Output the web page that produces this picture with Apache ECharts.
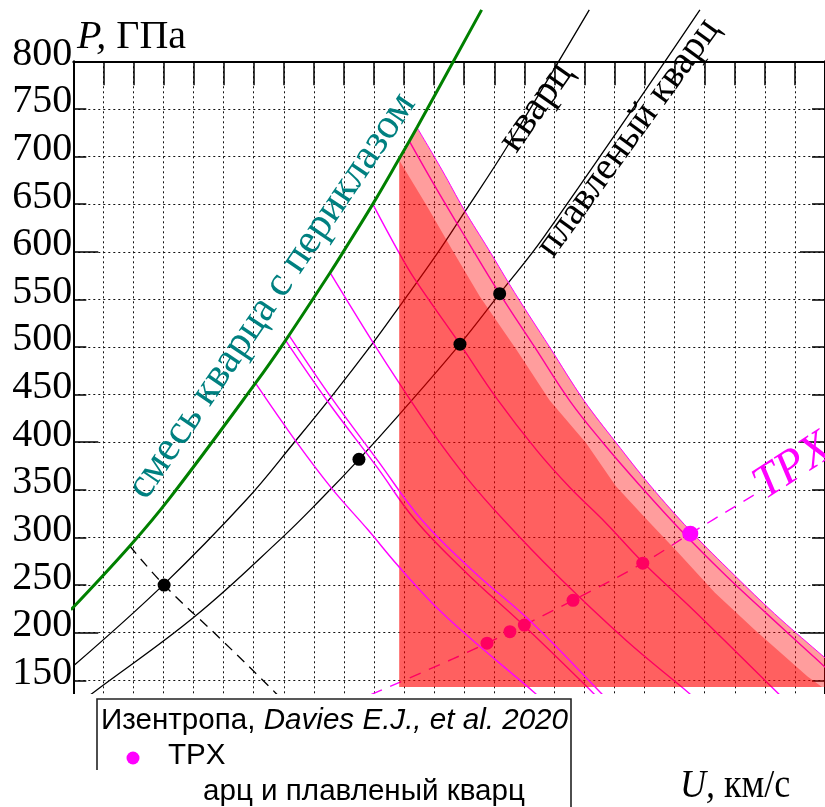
<!DOCTYPE html>
<html>
<head>
<meta charset="utf-8">
<script src="https://cdn.jsdelivr.net/npm/echarts@6/dist/echarts.min.js"></script>
<style>
  html, body { margin: 0; padding: 0; background: #fff; }
  #c { width: 825px; height: 807px; }
</style>
</head>
<body>
<div id="c"></div>
<script>
// P–U diagram: shock Hugoniots, release isentropes and the TPX Hugoniot.
// U in km/s, P in GPa.

// pressure tick labels and the long ticks
const pLabels = [150, 200, 250, 300, 350, 400, 450, 500, 550, 600, 650, 700, 750, 800];
const pMajor = [200, 400, 600, 800];

// quartz Hugoniot
const quartzU = [5.00, 6.51, 7.87, 8.69, 9.27, 9.98, 10.44, 11.05, 11.50, 12.21, 13.58];
const quartzP = [165, 251, 339, 401, 446, 504, 544, 598, 641, 710, 854];

// fused quartz Hugoniot
const fusedU = [5.10, 5.33, 7.04, 8.46, 9.10, 9.75, 10.42, 11.43, 12.09, 12.82, 15.42];
const fusedP = [126, 137, 218, 299, 339, 382, 429, 503, 556, 615, 854];

// quartz + periclase mixture Hugoniot
const mixU = [4.96, 5.94, 6.60, 8.03, 8.53, 9.27, 9.51, 9.98, 10.44, 10.72, 11.79];
const mixP = [224, 291, 341, 462, 507, 578, 602, 650, 700, 731, 854];

// release isentropes starting on the mixture Hugoniot
const relAU = [8.03, 8.69, 9.29, 9.90, 10.39, 10.97, 11.55, 12.67, 12.82];
const relAP = [462, 402, 352, 308, 271, 231, 197, 137, 128];
const relB1U = [8.53, 9.24, 10.06, 10.69, 11.55, 12.50, 13.64, 13.79];
const relB1P = [507, 442, 373, 318, 262, 207, 137, 127];
const relB2U = [8.59, 9.30, 10.06, 10.80, 11.66, 12.62, 13.77, 13.92];
const relB2P = [512, 446, 381, 318, 264, 211, 137, 127];
const relCU = [9.27, 9.98, 10.42, 11.00, 11.55, 12.16, 13.03, 14.19, 15.23, 15.39];
const relCP = [578, 505, 462, 408, 362, 318, 261, 192, 137, 128];
const relDU = [9.98, 10.39, 10.67, 11.43, 12.04, 12.70, 13.25, 13.86, 14.47, 15.34, 16.71, 16.86];
const relDP = [650, 602, 572, 503, 446, 392, 353, 315, 274, 222, 137, 128];
const relEU = [10.59, 11.05, 11.55, 12.09, 12.67, 13.25, 13.80, 14.43, 15.11, 15.85, 16.53, 17.24, 17.65];
const relEP = [716, 665, 612, 556, 500, 444, 400, 354, 307, 260, 220, 179, 155];

// release through the quartz point at 250 GPa
const relQU = [5.94, 6.51, 7.44, 8.36, 8.49];
const relQP = [291, 250, 194, 137, 128];

// outer edge of the shaded region (upper release bound)
const edgeU = [10.72, 11.13, 11.50, 11.91, 12.34, 12.92, 13.49, 14.02, 14.60, 15.26, 16.00, 16.66, 17.40, 17.65];
const edgeP = [730, 686, 644, 602, 557, 500, 444, 400, 354, 307, 260, 220, 179, 166];

// inner edge of the shaded region
const coreU = [10.42, 10.89, 11.30, 11.76, 12.37, 12.92, 13.53, 14.02, 14.52, 15.06, 15.67, 16.33, 17.21, 17.45];
const coreP = [696, 647, 602, 553, 497, 444, 399, 354, 320, 284, 242, 203, 154, 143];

// shaded region: left side U and floor P, top-left corner on the mixture Hugoniot
const regionLeftU = 10.42;
const regionTopP = 699;
const regionFloorP = 143;

// TPX Hugoniot and matched states
const tpxLineU = [9.95, 10.72, 11.88, 13.31, 14.47, 15.26, 16.46];
const tpxLineP = [135, 156, 189, 234, 273, 304, 350];
const tpxU = [11.88, 12.26, 12.50, 13.31, 14.47];
const tpxP = [189, 201, 208, 234, 273];
const tpxTopU = [15.26];
const tpxTopP = [304];

// states on the quartz / fused quartz Hugoniots
const hugU = [6.51, 9.75, 11.43, 12.09];
const hugP = [250, 382, 503, 556];

const pts = (u, p) => u.map((v, i) => [v, p[i]]);

const SERIF = "'Liberation Serif', 'Times New Roman', serif";
const SANS = "'Liberation Sans', Arial, sans-serif";
const MAG = '#ff00ff';
const RED = 'rgba(255,0,0,0.385)';

function curve(u, p, color, width, z, type) {
  return {
    type: 'line', data: pts(u, p), smooth: 0.4, symbol: 'none', clip: false,
    silent: true, z: z,
    lineStyle: { color: color, width: width, type: type || 'solid' }
  };
}

function dots(u, p, color, size, z) {
  return {
    type: 'scatter', data: pts(u, p), symbol: 'circle', symbolSize: size,
    itemStyle: { color: color, opacity: 1 }, z: z, silent: true
  };
}

const chart = echarts.init(document.getElementById('c'), null, { renderer: 'canvas' });

const grid = { left: 73.3, top: 61.3, width: 757.5, height: 666.6 };
const dotted = { color: '#111', width: 1, type: [2, 3] };

chart.setOption({
  animation: false,
  backgroundColor: '#fff',
  grid: grid,
  xAxis: {
    type: 'value', min: 5, max: 17.5, interval: 0.5, position: 'top',
    axisLine: { show: true, onZero: false, lineStyle: { color: '#000', width: 2 } },
    axisTick: { show: true, inside: true, length: 24, lineStyle: { color: '#000', width: 1.5 } },
    axisLabel: { show: false },
    splitLine: { show: true, lineStyle: dotted }
  },
  yAxis: [
    {
      type: 'value', min: 100, max: 800, interval: 50, position: 'left',
      axisLine: { show: true, onZero: false, lineStyle: { color: '#000', width: 2 } },
      axisTick: { show: true, inside: true, length: 13, lineStyle: { color: '#000', width: 1.5 } },
      axisLabel: {
        customValues: pLabels, color: '#000', fontFamily: SERIF, fontSize: 40,
        margin: 1, verticalAlign: 'bottom', lineHeight: 14
      },
      splitLine: { show: true, lineStyle: dotted }
    },
    {
      type: 'value', min: 100, max: 800, position: 'left',
      axisLine: { show: false },
      axisTick: { show: true, inside: true, length: 25, customValues: pMajor, lineStyle: { color: '#000', width: 1.5 } },
      axisLabel: { show: false },
      splitLine: { show: false }
    },
    {
      type: 'value', min: 100, max: 800, interval: 50, position: 'right',
      axisLine: { show: true, onZero: false, lineStyle: { color: '#000', width: 2 } },
      axisTick: { show: true, inside: true, length: 13, lineStyle: { color: '#000', width: 1.5 } },
      axisLabel: { show: false },
      splitLine: { show: false }
    },
    {
      type: 'value', min: 100, max: 800, position: 'right',
      axisLine: { show: false },
      axisTick: { show: true, inside: true, length: 25, customValues: pMajor, lineStyle: { color: '#000', width: 1.5 } },
      axisLabel: { show: false },
      splitLine: { show: false }
    }
  ],
  series: [
    // beneath the shading
    curve(quartzU, quartzP, '#000', 1.3, 2),
    curve(fusedU, fusedP, '#000', 1.3, 2),
    curve(relQU, relQP, '#000', 1.3, 2, [10, 7]),
    curve(relB1U, relB1P, MAG, 1.4, 2),
    curve(relCU, relCP, MAG, 1.4, 2),
    curve(relDU, relDP, MAG, 1.4, 2),
    curve(relEU, relEP, MAG, 1.4, 2),
    curve(tpxLineU, tpxLineP, MAG, 1.4, 2, [12, 9]),
    dots(tpxU, tpxP, MAG, 13, 2),
    // shaded region of release states
    {
      type: 'custom', z: 3, clip: false, silent: true,
      data: [[regionLeftU, regionFloorP]],
      renderItem: function (params, api) {
        const outer = [[regionLeftU, regionFloorP], [regionLeftU, regionTopP]]
          .concat(pts(edgeU, edgeP))
          .concat([[edgeU[edgeU.length - 1], regionFloorP]]);
        const inner = [[regionLeftU, regionFloorP]]
          .concat(pts(coreU, coreP))
          .concat([[coreU[coreU.length - 1], regionFloorP]]);
        return {
          type: 'group',
          children: [
            { type: 'polygon', shape: { points: outer.map(d => api.coord(d)), smooth: 0 }, style: { fill: RED } },
            { type: 'polygon', shape: { points: inner.map(d => api.coord(d)), smooth: 0 }, style: { fill: RED } }
          ]
        };
      }
    },
    // above the shading
    curve(relAU, relAP, MAG, 1.4, 4),
    curve(relB2U, relB2P, MAG, 1.4, 4),
    curve(edgeU, edgeP, MAG, 1, 4),
    curve(mixU, mixP, '#008000', 3, 4),
    dots(hugU, hugP, '#000', 13, 5),
    dots(tpxTopU, tpxTopP, MAG, 16, 5)
  ],
  graphic: [
    // blank band under the plot
    { type: 'rect', z: 100, shape: { x: 0, y: 694, width: 825, height: 113 }, style: { fill: '#fff' } },
    // axis titles
    {
      type: 'text', z: 110, x: 77, y: 37,
      style: {
        text: '{i|P,}{r| ГПа}', verticalAlign: 'middle', align: 'left',
        rich: {
          i: { fontFamily: SERIF, fontSize: 40, fontStyle: 'italic', fill: '#000' },
          r: { fontFamily: SERIF, fontSize: 40, fill: '#000' }
        }
      }
    },
    {
      type: 'text', z: 110, x: 680, y: 786, scaleX: 0.9,
      style: {
        text: '{i|U,}{r| км/с}', verticalAlign: 'middle', align: 'left',
        rich: {
          i: { fontFamily: SERIF, fontSize: 40, fontStyle: 'italic', fill: '#000' },
          r: { fontFamily: SERIF, fontSize: 40, fill: '#000' }
        }
      }
    },
    // curve labels
    {
      type: 'text', z: 110, x: 272, y: 296, rotation: 55.8 * Math.PI / 180,
      style: { text: 'смесь кварца с периклазом', fontFamily: SERIF, fontSize: 42, fill: '#008080', align: 'center', verticalAlign: 'middle' }
    },
    {
      type: 'text', z: 110, x: 536, y: 107, rotation: 55 * Math.PI / 180,
      style: { text: 'кварц', fontFamily: SERIF, fontSize: 41, fill: '#000', align: 'center', verticalAlign: 'middle' }
    },
    {
      type: 'text', z: 110, x: 628, y: 138, rotation: 54 * Math.PI / 180,
      style: { text: 'плавленый кварц', fontFamily: SERIF, fontSize: 39, fill: '#000', align: 'center', verticalAlign: 'middle' }
    },
    {
      type: 'text', z: 110, x: 793, y: 467, rotation: 33 * Math.PI / 180,
      style: { text: 'TPX', fontFamily: SERIF, fontSize: 47, fontStyle: 'italic', fill: MAG, align: 'center', verticalAlign: 'middle' }
    },
    // legend box
    {
      type: 'polyline', z: 110,
      shape: { points: [[97, 770], [97, 699], [571, 699], [571, 807]] },
      style: { stroke: '#222', lineWidth: 1.6, fill: null }
    },
    {
      type: 'text', z: 110, x: 101, y: 721,
      style: {
        text: '{r|Изентропа, }{i|Davies E.J., et al. 2020}', verticalAlign: 'middle', align: 'left',
        rich: {
          r: { fontFamily: SANS, fontSize: 29.6, fill: '#000' },
          i: { fontFamily: SANS, fontSize: 29.6, fontStyle: 'italic', fill: '#000' }
        }
      }
    },
    { type: 'circle', z: 110, shape: { cx: 133, cy: 758, r: 6.5 }, style: { fill: MAG } },
    {
      type: 'text', z: 110, x: 168, y: 756,
      style: { text: 'TPX', fontFamily: SANS, fontSize: 29.6, fill: '#000', align: 'left', verticalAlign: 'middle' }
    },
    {
      type: 'text', z: 110, x: 203, y: 792,
      style: { text: 'арц и плавленый кварц', fontFamily: SANS, fontSize: 29.6, fill: '#000', align: 'left', verticalAlign: 'middle' }
    }
  ]
});
</script>
</body>
</html>
